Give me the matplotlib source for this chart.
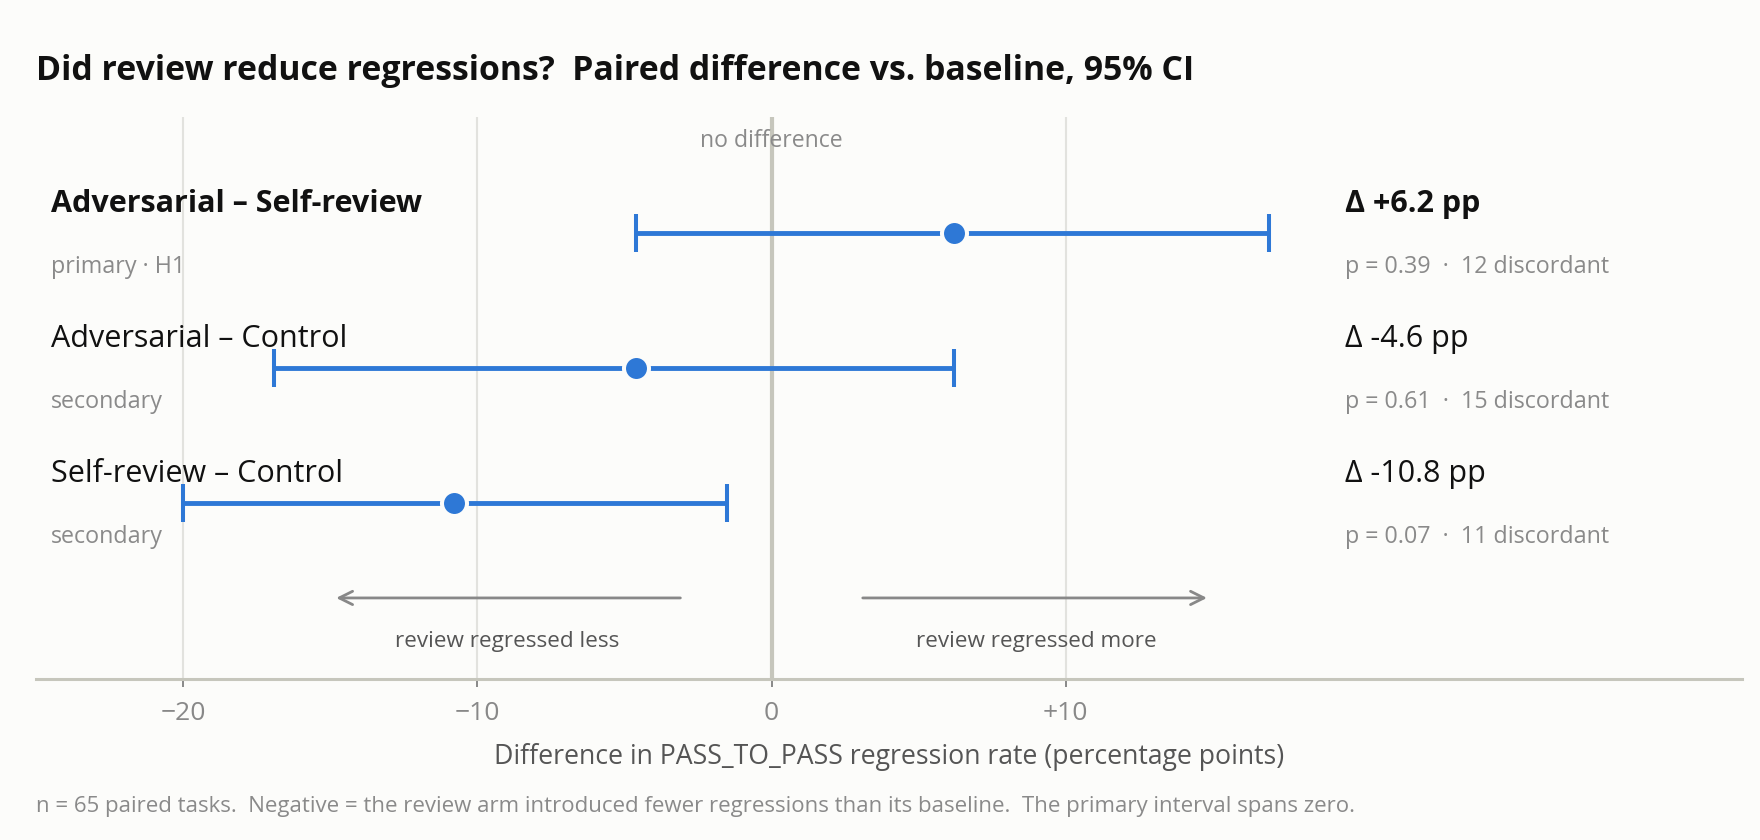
import matplotlib
matplotlib.use('Agg')
import matplotlib.pyplot as plt

# ==========================================
# DATA
# ==========================================
comparisons = ['Adversarial \u2013 Self-review', 'Adversarial \u2013 Control', 'Self-review \u2013 Control']
roles = ['primary \u00b7 H1', 'secondary', 'secondary']
estimates = [6.2, -4.6, -10.8]
ci_low = [-4.6, -16.9, -20.0]
ci_high = [16.9, 6.2, -1.5]
p_values = ['0.39', '0.61', '0.07']
discordant = [12, 15, 11]
tick_values = [-20, -10, 0, 10]
tick_labels = ['\u221220', '\u221210', '0', '+10']

BLUE = '#2e78d6'
BG = '#fcfcfa'
GREY = '#8a8a8a'
DARK = '#555555'

plt.rcParams['font.family'] = ['Open Sans', 'DejaVu Sans']

fig = plt.figure(figsize=(8.8, 4.2), dpi=200, facecolor=BG)
ax = fig.add_axes([0.0205, 0.1917, 0.9695, 0.6693])
ax.set_facecolor(BG)

ax.set_xlim(-25, 33)
ax.set_ylim(3.3, -0.863)

# grid + zero line
for t in tick_values:
    if t != 0:
        ax.axvline(t, color='#e2e2de', lw=0.75, zorder=0)
ax.axvline(0, color='#c6c6bc', lw=1.5, zorder=1)

# intervals
for i in range(len(comparisons)):
    err = [[estimates[i] - ci_low[i]], [ci_high[i] - estimates[i]]]
    ax.errorbar(estimates[i], i, xerr=err, fmt='o', color=BLUE, ecolor=BLUE,
                elinewidth=1.75, capsize=6.7, capthick=2.0, ms=9,
                mfc=BLUE, mec=BG, mew=1.45, zorder=3)

    bold = 'bold' if i == 0 else 'normal'
    ax.text(-24.5, i - 0.215, comparisons[i], fontsize=11, fontweight=bold,
            color='#111111', va='center', ha='left')
    ax.text(-24.5, i + 0.25, roles[i], fontsize=8.4, color=GREY, va='center', ha='left')
    sign = '+' if estimates[i] > 0 else ''
    ax.text(19.5, i - 0.215, f'\u0394 {sign}{estimates[i]:.1f} pp', fontsize=11,
            fontweight=bold, color='#111111', va='center', ha='left')
    ax.text(19.5, i + 0.25, f'p = {p_values[i]}  \u00b7  {discordant[i]} discordant',
            fontsize=8.4, color=GREY, va='center', ha='left')

ax.text(0, -0.68, 'no difference', fontsize=8.3, color=GREY, ha='center', va='center')

# direction arrows
ax.annotate('', xy=(-14.8, 2.70), xytext=(-3.1, 2.70),
            arrowprops=dict(arrowstyle='->', color='#888888', lw=1.0, shrinkA=0, shrinkB=0,
                            mutation_scale=12))
ax.annotate('', xy=(14.8, 2.70), xytext=(3.1, 2.70),
            arrowprops=dict(arrowstyle='->', color='#888888', lw=1.0, shrinkA=0, shrinkB=0,
                            mutation_scale=12))
ax.text(-9, 3.02, 'review regressed less', fontsize=8.1, color=DARK, ha='center', va='center')
ax.text(9, 3.02, 'review regressed more', fontsize=8.1, color=DARK, ha='center', va='center')

# axes styling
for s in ['top', 'right', 'left']:
    ax.spines[s].set_visible(False)
ax.spines['bottom'].set_color('#c6c6bc')
ax.spines['bottom'].set_linewidth(1.1)
ax.set_yticks([])
ax.set_xticks(tick_values)
ax.set_xticklabels(tick_labels)
ax.tick_params(axis='x', colors='#888888', labelcolor='#888888', labelsize=9.5,
               length=3, width=0.7, pad=5)
ax.set_xlabel('Difference in PASS_TO_PASS regression rate (percentage points)',
              fontsize=9.6, color=DARK, labelpad=6)

fig.text(0.0205, 0.9156, 'Did review reduce regressions?  Paired difference vs. baseline, 95% CI',
         fontsize=12.2, fontweight='bold', color='#111111', ha='left', va='center')
fig.text(0.0205, 0.040, 'n = 65 paired tasks.  Negative = the review arm introduced fewer regressions '
         'than its baseline.  The primary interval spans zero.',
         fontsize=8, color=GREY, ha='left', va='center')

fig.savefig('out.png', dpi=200, facecolor=BG)
